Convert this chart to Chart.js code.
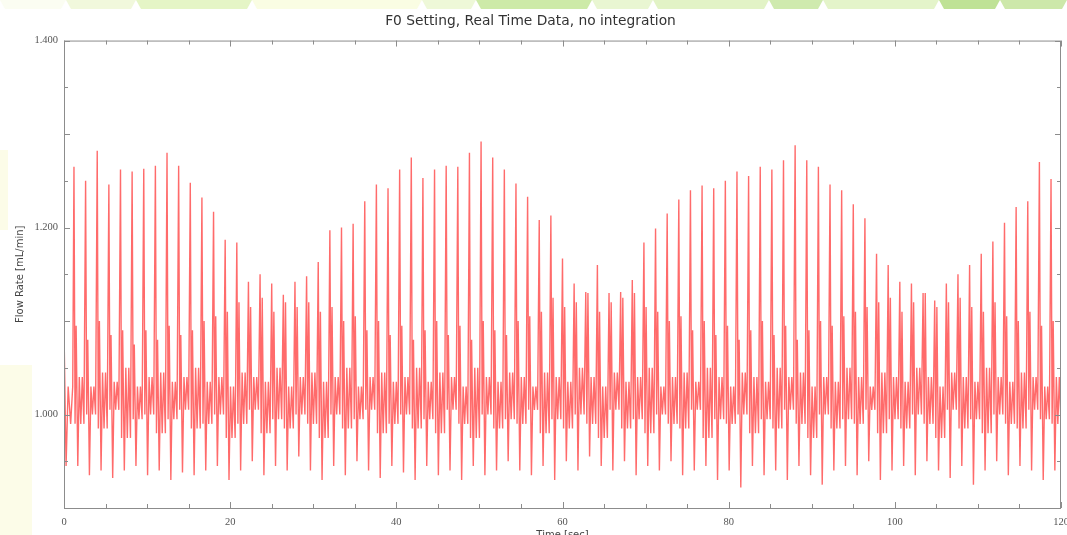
<!DOCTYPE html>
<html>
<head>
<meta charset="utf-8">
<title>F0 Setting, Real Time Data, no integration</title>
<script src="https://cdn.jsdelivr.net/npm/chart.js@4.4.1/dist/chart.umd.min.js"></script>
<style>
  html, body { margin: 0; padding: 0; background: #fff; }
  #wrap { width: 1067px; height: 535px; overflow: hidden; }
</style>
</head>
<body>
<div id="wrap"><canvas id="flowChart" width="1067" height="545"></canvas></div>
<script>
const chartTitle = 'F0 Setting, Real Time Data, no integration';
const xTitle = 'Time [sec]';
const yTitle = 'Flow Rate [mL/min]';
const xTicks = [0, 20, 40, 60, 80, 100, 120];
const yTicks = [1.0, 1.2, 1.4];

// start of the trace, before the first beat
const leadTimes = [0, 0.25, 0.5, 0.8, 1.05];
const leadValues = [1.09, 0.945, 1.03, 0.99, 1.03];

// one entry per pump beat (seconds)
const beatTimes = [
    1.2, 2.6, 4.0, 5.4, 6.8, 8.2, 9.6, 11.0, 12.4, 13.8,
    15.2, 16.6, 18.0, 19.4, 20.8, 22.2, 23.6, 25.0, 26.4, 27.8,
    29.2, 30.6, 32.0, 33.4, 34.8, 36.2, 37.6, 39.0, 40.4, 41.8,
    43.2, 44.6, 46.0, 47.4, 48.8, 50.2, 51.6, 53.0, 54.4, 55.8,
    57.2, 58.6, 60.0, 61.4, 62.8, 64.2, 65.6, 67.0, 68.4, 69.8,
    71.2, 72.6, 74.0, 75.4, 76.8, 78.2, 79.6, 81.0, 82.4, 83.8,
    85.2, 86.6, 88.0, 89.4, 90.8, 92.2, 93.6, 95.0, 96.4, 97.8,
    99.2, 100.6, 102.0, 103.4, 104.8, 106.2, 107.6, 109.0, 110.4, 111.8,
    113.2, 114.6, 116.0, 117.4, 118.8
];
const peaks = [
    1.265, 1.250, 1.282, 1.246, 1.262, 1.260, 1.263, 1.266, 1.280, 1.266,
    1.248, 1.232, 1.217, 1.187, 1.184, 1.142, 1.150, 1.140, 1.128, 1.142,
    1.148, 1.163, 1.197, 1.200, 1.204, 1.228, 1.246, 1.242, 1.262, 1.275,
    1.253, 1.262, 1.266, 1.265, 1.280, 1.292, 1.275, 1.262, 1.247, 1.233,
    1.208, 1.213, 1.167, 1.140, 1.131, 1.160, 1.130, 1.131, 1.144, 1.184,
    1.199, 1.215, 1.230, 1.240, 1.245, 1.242, 1.250, 1.260, 1.255, 1.265,
    1.262, 1.272, 1.288, 1.272, 1.265, 1.246, 1.240, 1.225, 1.210, 1.172,
    1.160, 1.142, 1.140, 1.130, 1.122, 1.140, 1.150, 1.160, 1.172, 1.185,
    1.205, 1.222, 1.228, 1.270, 1.252
];
const bumps = [
    1.095, 1.08, 1.10, 1.085, 1.09, 1.075, 1.09, 1.08, 1.095, 1.085,
    1.09, 1.10, 1.105, 1.11, 1.12, 1.115, 1.125, 1.11, 1.12, 1.115,
    1.12, 1.11, 1.115, 1.10, 1.105, 1.09, 1.10, 1.085, 1.095, 1.08,
    1.09, 1.10, 1.085, 1.095, 1.08, 1.10, 1.09, 1.085, 1.10, 1.105,
    1.11, 1.125, 1.115, 1.12, 1.13, 1.11, 1.12, 1.125, 1.13, 1.115,
    1.11, 1.10, 1.105, 1.09, 1.10, 1.085, 1.095, 1.08, 1.09, 1.10,
    1.085, 1.095, 1.08, 1.09, 1.10, 1.095, 1.105, 1.11, 1.115, 1.12,
    1.125, 1.11, 1.12, 1.13, 1.115, 1.12, 1.125, 1.115, 1.11, 1.12,
    1.105, 1.10, 1.11, 1.095, 1.10
];
const dips = [
    0.945, 0.935, 0.94, 0.932, 0.94, 0.945, 0.935, 0.94, 0.93, 0.938,
    0.935, 0.94, 0.945, 0.93, 0.94, 0.95, 0.935, 0.945, 0.94, 0.955,
    0.94, 0.93, 0.945, 0.935, 0.95, 0.94, 0.932, 0.945, 0.938, 0.93,
    0.945, 0.935, 0.94, 0.93, 0.945, 0.935, 0.94, 0.95, 0.94, 0.935,
    0.945, 0.93, 0.95, 0.94, 0.955, 0.945, 0.94, 0.95, 0.935, 0.945,
    0.94, 0.95, 0.935, 0.94, 0.945, 0.93, 0.94, 0.922, 0.945, 0.935,
    0.94, 0.93, 0.945, 0.935, 0.925, 0.94, 0.945, 0.935, 0.95, 0.93,
    0.94, 0.945, 0.935, 0.95, 0.94, 0.932, 0.945, 0.925, 0.94, 0.95,
    0.935, 0.945, 0.94, 0.93, 0.94
];
const mids = [
    1.04, 1.03, 1.045, 1.035, 1.05, 1.03, 1.04, 1.045, 1.035, 1.04,
    1.05, 1.035, 1.04, 1.03, 1.045, 1.04, 1.035, 1.05, 1.03, 1.04,
    1.045, 1.035, 1.04, 1.05, 1.03, 1.04, 1.045, 1.035, 1.04, 1.05,
    1.035, 1.045, 1.04, 1.03, 1.05, 1.04, 1.035, 1.045, 1.04, 1.03,
    1.045, 1.04, 1.035, 1.05, 1.04, 1.03, 1.045, 1.035, 1.04, 1.05,
    1.03, 1.04, 1.045, 1.035, 1.05, 1.04, 1.03, 1.045, 1.04, 1.035,
    1.05, 1.04, 1.045, 1.03, 1.04, 1.035, 1.05, 1.04, 1.03, 1.045,
    1.04, 1.035, 1.05, 1.04, 1.03, 1.045, 1.04, 1.035, 1.05, 1.04,
    1.035, 1.045, 1.04, 1.03, 1.04
];
const lows = [
    0.99, 1.0, 0.985, 1.005, 0.975, 0.995, 1.0, 0.98, 0.995, 1.005,
    0.985, 0.99, 1.0, 0.975, 0.99, 1.005, 0.98, 0.995, 0.985, 1.0,
    0.99, 0.975, 1.0, 0.985, 0.995, 1.005, 0.98, 0.99, 1.0, 0.985,
    0.995, 0.98, 1.005, 0.99, 0.975, 1.0, 0.985, 0.995, 0.99, 1.005,
    0.98, 0.995, 0.985, 1.0, 0.99, 0.975, 1.005, 0.985, 0.995, 0.98,
    1.0, 0.99, 0.985, 1.005, 0.975, 0.995, 0.99, 1.0, 0.98, 0.995,
    0.985, 1.005, 0.99, 0.975, 1.0, 0.985, 0.995, 0.99, 1.005, 0.98,
    0.995, 0.985, 1.0, 0.99, 0.975, 1.005, 0.985, 0.995, 0.98, 1.0,
    0.99, 0.985, 1.005, 0.995, 0.99
];

// time after the beat (s) of each sample inside one beat
const beatOffsets = [0, 0.13, 0.26, 0.46, 0.64, 0.82, 1.0, 1.2];

const buildSeries = () => {
    const pts = leadTimes.map((t, i) => ({ x: t, y: leadValues[i] }));
    beatTimes.forEach((t, i) => {
        const vals = [peaks[i], lows[i], bumps[i], dips[i], mids[i], lows[i], mids[i], lows[i]];
        beatOffsets.forEach((o, k) => pts.push({ x: t + o, y: vals[k] }));
    });
    return pts;
};

const paperBackground = {
    id: 'paperBackground',
    beforeDraw: (chart) => {
        const ctx = chart.ctx;
        ctx.save();
        ctx.fillStyle = '#ffffff';
        ctx.fillRect(0, 0, chart.width, chart.height);
        // slide decoration along the top edge and left side
        const band = [
            [0, 66, '#fbfdf2'], [66, 136, '#f1f8dc'], [136, 252, '#e5f5c6'],
            [252, 422, '#fafde3'], [422, 476, '#eef8d8'], [476, 592, '#cdeaa8'],
            [592, 653, '#e9f6d2'], [653, 769, '#e2f3c6'], [769, 823, '#cfeaae'],
            [823, 939, '#e4f4ca'], [939, 1000, '#bfe296'], [1000, 1067, '#cde8aa']
        ];
        band.forEach(([a, b, c]) => {
            ctx.fillStyle = c;
            ctx.beginPath();
            ctx.moveTo(a, 0);
            ctx.lineTo(b, 0);
            ctx.lineTo(b - 5, 9);
            ctx.lineTo(a + 5, 9);
            ctx.closePath();
            ctx.fill();
        });
        ctx.fillStyle = '#fcfce8';
        ctx.fillRect(0, 365, 32, 170);
        ctx.fillRect(0, 150, 8, 80);
        ctx.restore();
    }
};

const frameTicks = {
    id: 'frameTicks',
    afterDraw: (chart) => {
        const { ctx, chartArea: a } = chart;
        const x = chart.scales.x;
        const y = chart.scales.y;
        ctx.save();
        ctx.strokeStyle = '#8c8c8c';
        ctx.lineWidth = 1;
        ctx.strokeRect(a.left + 0.5, a.top + 0.5, a.right - a.left - 1, a.bottom - a.top);
        ctx.beginPath();
        for (let k = 0; k <= 24; k++) {
            const px = Math.round(x.getPixelForValue(k * 5)) + 0.5;
            const len = k % 4 === 0 ? 6 : 4;
            ctx.moveTo(px, a.bottom); ctx.lineTo(px, a.bottom - len);
            ctx.moveTo(px, a.top); ctx.lineTo(px, a.top + len);
        }
        for (let k = 0; k <= 10; k++) {
            const py = Math.round(y.getPixelForValue(0.9 + k * 0.05)) + 0.5;
            const len = k % 2 === 0 && k > 0 ? 6 : 4;
            ctx.moveTo(a.left, py); ctx.lineTo(a.left + len, py);
            ctx.moveTo(a.right, py); ctx.lineTo(a.right - len, py);
        }
        ctx.stroke();
        ctx.restore();
    }
};

const ctx = document.getElementById('flowChart').getContext('2d');
new Chart(ctx, {
    type: 'line',
    data: {
        datasets: [{
            data: buildSeries(),
            borderColor: 'rgba(255, 0, 0, 0.58)',
            borderWidth: 1.4,
            pointRadius: 0,
            tension: 0,
            fill: false
        }]
    },
    options: {
        responsive: false,
        animation: false,
        parsing: false,
        layout: { padding: { left: 0, right: 6, top: 0, bottom: 0 } },
        plugins: {
            legend: { display: false },
            tooltip: { enabled: false },
            title: {
                display: true,
                text: chartTitle,
                color: '#333',
                font: { family: 'DejaVu Sans', size: 13.8, weight: 'normal' },
                padding: { top: 13, bottom: 11 }
            }
        },
        scales: {
            x: {
                type: 'linear',
                min: 0,
                max: 120,
                afterBuildTicks: (s) => { s.ticks = xTicks.map(v => ({ value: v })); },
                afterFit: (s) => { s.height = 37; s.paddingLeft = 0; s.paddingRight = 0; },
                grid: { display: false, drawTicks: false },
                border: { display: false },
                ticks: { color: '#555', font: { family: 'Liberation Serif', size: 10.5 }, padding: 8, maxRotation: 0 },
                title: {
                    display: true,
                    text: xTitle,
                    color: '#444',
                    font: { family: 'DejaVu Sans', size: 10 },
                    padding: { top: 0, bottom: 4 }
                }
            },
            y: {
                type: 'linear',
                min: 0.9,
                max: 1.4,
                afterBuildTicks: (s) => { s.ticks = yTicks.map(v => ({ value: v })); },
                afterFit: (s) => { s.width = 64; s.paddingTop = 0; s.paddingBottom = 0; },
                grid: { display: false, drawTicks: false },
                border: { display: false },
                ticks: {
                    color: '#555',
                    font: { family: 'Liberation Serif', size: 10.5 },
                    padding: 6,
                    callback: (v) => Number(v).toFixed(3)
                },
                title: {
                    display: true,
                    text: yTitle,
                    color: '#444',
                    font: { family: 'DejaVu Sans', size: 10 },
                    padding: { top: 14, bottom: 0 }
                }
            }
        }
    },
    plugins: [paperBackground, frameTicks]
});
</script>
</body>
</html>
